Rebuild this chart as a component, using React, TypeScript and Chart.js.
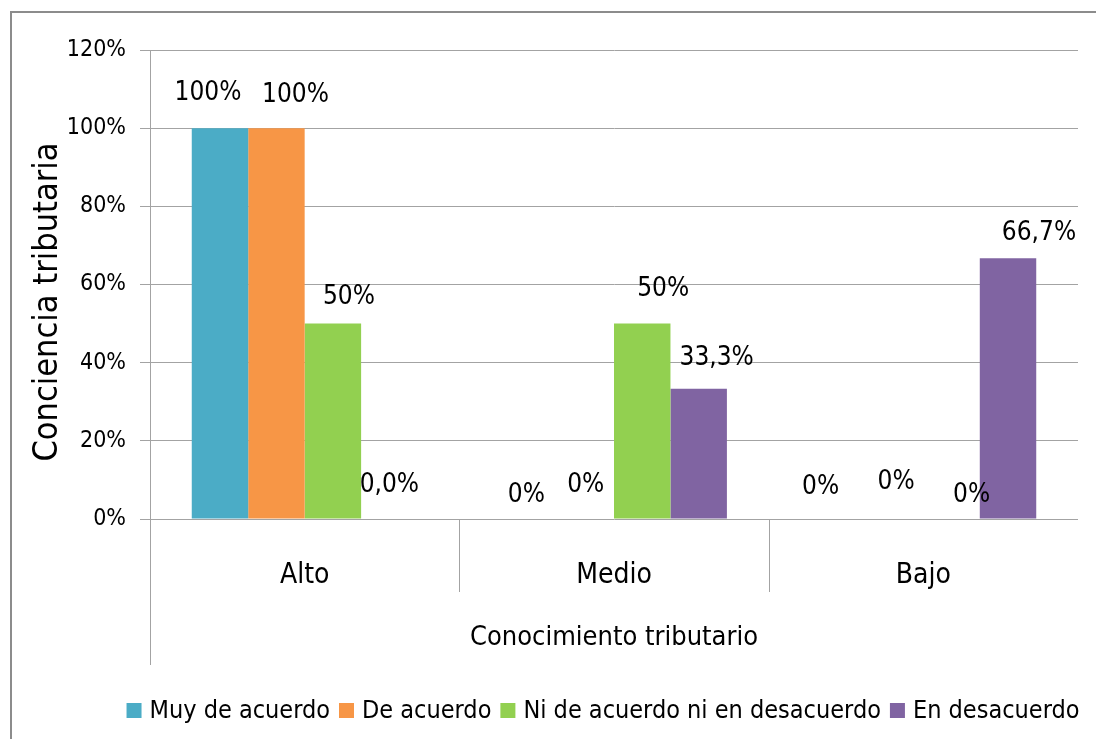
import React, { useEffect, useRef } from 'react';
import { Chart, registerables } from 'chart.js';

Chart.register(...registerables);

const categories = ['Alto', 'Medio', 'Bajo'];
const seriesNames = ['Muy de acuerdo', 'De acuerdo', 'Ni de acuerdo ni en desacuerdo', 'En desacuerdo'];
const muyDeAcuerdo = [1, 0, 0];
const deAcuerdo = [1, 0, 0];
const niDeAcuerdo = [0.5, 0.5, 0];
const enDesacuerdo = [0, 0.333, 0.667];
const muyLabels = ['100%', '0%', '0%'];
const deLabels = ['100%', '0%', '0%'];
const niLabels = ['50%', '50%', '0%'];
const enLabels = ['0,0%', '33,3%', '66,7%'];
const xTitle = 'Conocimiento tributario';
const yTitle = 'Conciencia tributaria';
const colors = ['#4BACC6', '#F79646', '#92D050', '#8064A2'];
// label nudges relative to bar top: [dx, distance above]
const labelNudge = [
  [[-12, 35], [-3, 24], [-18, 32]],
  [[19, 33], [0, 34], [1, 37]],
  [[16, 26], [21, 34], [20, 24]],
  [[0, 34], [18, 31], [31, 25]],
];

const FONT = "'Liberation Sans Narrow', 'DejaVu Sans Condensed', 'Liberation Sans', sans-serif";
const GRID = '#a3a3a3';

export default function App() {
  const ref = useRef<HTMLCanvasElement | null>(null);
  useEffect(() => {
    document.body.style.margin = '0';
    const canvas = ref.current;
    if (!canvas) return;
    const series = [muyDeAcuerdo, deAcuerdo, niDeAcuerdo, enDesacuerdo];
    const labelSets = [muyLabels, deLabels, niLabels, enLabels];

    const decor = {
      id: 'decor',
      beforeDraw(chart: any) {
        const ctx = chart.ctx;
        ctx.save();
        ctx.fillStyle = '#fff';
        ctx.fillRect(0, 0, chart.width, chart.height);
        ctx.strokeStyle = '#8c8c8c';
        ctx.lineWidth = 2;
        ctx.strokeRect(11, 12, chart.width + 20, chart.height + 20);
        ctx.restore();
      },
      afterDraw(chart: any) {
        const ctx = chart.ctx;
        const ca = chart.chartArea;
        ctx.save();
        ctx.strokeStyle = GRID;
        ctx.lineWidth = 1;
        const w = (ca.right - ca.left) / categories.length;
        for (let k = 1; k < categories.length; k++) {
          const x = Math.round(ca.left + k * w) + 0.5;
          ctx.beginPath();
          ctx.moveTo(x, ca.bottom);
          ctx.lineTo(x, ca.bottom + 73);
          ctx.stroke();
        }
        const lx = Math.round(ca.left) + 0.5;
        ctx.beginPath();
        ctx.moveTo(lx, ca.bottom);
        ctx.lineTo(lx, ca.bottom + 146);
        ctx.stroke();

        ctx.fillStyle = '#000';
        ctx.textAlign = 'center';
        ctx.textBaseline = 'middle';
        ctx.font = `27px ${FONT}`;
        ctx.fillText(xTitle, (ca.left + ca.right) / 2, 638);

        ctx.save();
        ctx.translate(48, 302);
        ctx.rotate(-Math.PI / 2);
        ctx.font = `34px ${FONT}`;
        ctx.fillText(yTitle, 0, 0);
        ctx.restore();

        ctx.font = `26px ${FONT}`;
        series.forEach((_, di) => {
          const meta = chart.getDatasetMeta(di);
          meta.data.forEach((bar: any, i: number) => {
            const [dx, dy] = labelNudge[di][i];
            ctx.fillText(labelSets[di][i], bar.x + dx, bar.y - dy);
          });
        });

        ctx.font = `25px ${FONT}`;
        ctx.textAlign = 'left';
        const sq = 15, gapSq = 8, gapItem = 9;
        const widths = seriesNames.map((n) => ctx.measureText(n).width);
        const total = widths.reduce((a, b) => a + b, 0) + seriesNames.length * (sq + gapSq) + (seriesNames.length - 1) * gapItem;
        let x = 603 - total / 2;
        const ly = 711;
        seriesNames.forEach((n, i) => {
          ctx.fillStyle = colors[i];
          ctx.fillRect(x, ly - 8, sq, sq);
          x += sq + gapSq;
          ctx.fillStyle = '#000';
          ctx.fillText(n, x, ly);
          x += widths[i] + gapItem;
        });
        ctx.restore();
      },
    };

    const chart = new Chart(canvas, {
      type: 'bar',
      data: {
        labels: categories,
        datasets: series.map((d, i) => ({
          label: seriesNames[i],
          data: d,
          backgroundColor: colors[i],
          borderWidth: 0,
          barPercentage: 1,
          categoryPercentage: 0.73,
        })),
      },
      options: {
        responsive: false,
        animation: false,
        layout: { padding: { top: 50, right: 18, left: 0, bottom: 0 } },
        plugins: { legend: { display: false }, tooltip: { enabled: false } },
        scales: {
          x: {
            grid: { display: false },
            border: { display: false },
            ticks: { color: '#000', font: { family: FONT, size: 28 }, padding: 32 },
            afterFit: (s: any) => { s.height = 220; },
          },
          y: {
            min: 0,
            max: 1.2,
            ticks: {
              stepSize: 0.2,
              color: '#000',
              font: { family: FONT, size: 23 },
              padding: 14,
              callback: (v: any) => Math.round(Number(v) * 100) + '%',
            },
            grid: { color: GRID, tickLength: 10, tickColor: GRID, lineWidth: 1 },
            border: { display: true, color: GRID, width: 1 },
            afterFit: (s: any) => { s.width = 150; },
          },
        },
      },
      plugins: [decor],
    });
    return () => chart.destroy();
  }, []);
  return (
    <div style={{ width: 1096, height: 739 }}>
      <canvas ref={ref} width={1096} height={739} />
    </div>
  );
}
